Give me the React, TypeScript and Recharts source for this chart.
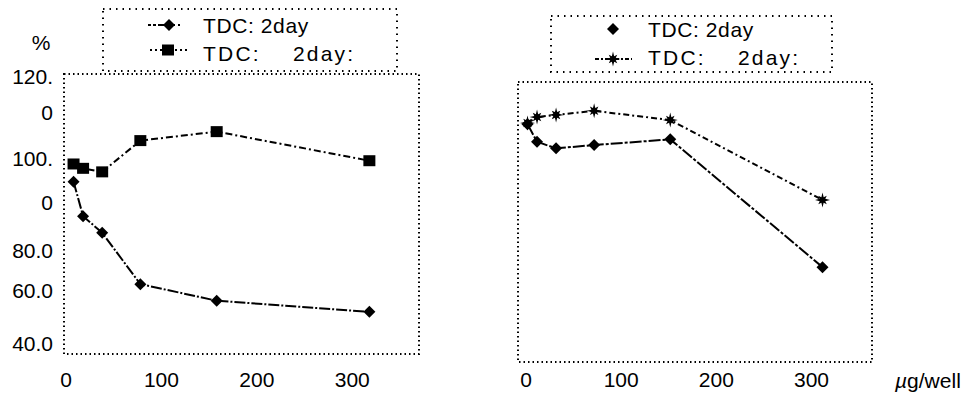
import React from 'react';
import { LineChart, Line, XAxis, YAxis, ReferenceArea, Legend, Label } from 'recharts';

// ---- data ----
const doses = [10, 20, 40, 80, 160, 320];
const leftTdc2day = [99.4, 86.7, 80.6, 61.7, 55.6, 51.5];
const leftTdc2dayB = [105.9, 104.3, 103.0, 114.5, 117.8, 107.1];
const rightTdc2day = [123.5, 117.0, 114.6, 115.8, 117.9, 70.9];
const rightTdc2dayB = [123.9, 126.1, 126.9, 128.4, 125.0, 95.6];

const xTicks = [0, 100, 200, 300];
const yTickValues = [40, 59.5, 73.9, 91.9, 108.1, 125.0, 138.0];
const yTickLabels = ['40.0', '60.0', '80.0', '0', '100.', '0', '120.'];
const seriesNames = ['TDC: 2day', 'TDC:    2day:'];
const yUnit = '%';
const xUnitPrefix = 'µ';
const xUnitRest = 'g/well';

const X_DOMAIN: [number, number] = [0, 372];
const Y_DOMAIN: [number, number] = [36, 139];

const leftData = doses.map((d, i) => ({ dose: d, a: leftTdc2day[i], b: leftTdc2dayB[i] }));
const rightData = doses.map((d, i) => ({ dose: d, a: rightTdc2day[i], b: rightTdc2dayB[i] }));

const FONT = '"Liberation Sans", Arial, sans-serif';
const INK = '#000';

function markerPath(shape: string, cx: number, cy: number): string {
  if (shape === 'square') {
    return `M${cx - 6},${cy - 5.5} h12 v11 h-12 Z`;
  }
  if (shape === 'diamond') {
    const r = 6, w = 3;
    return `M${cx},${cy - r} L${cx + w},${cy - w} L${cx + r},${cy} L${cx + w},${cy + w} L${cx},${cy + r} L${cx - w},${cy + w} L${cx - r},${cy} L${cx - w},${cy - w} Z`;
  }
  // star (8 point)
  const pts: string[] = [];
  for (let k = 0; k < 16; k++) {
    const ang = (Math.PI * 2 * k) / 16 - Math.PI / 2;
    const rr = k % 2 === 0 ? (k % 4 === 0 ? 7.5 : 6) : 3;
    pts.push(`${(cx + rr * Math.cos(ang)).toFixed(2)},${(cy + rr * Math.sin(ang)).toFixed(2)}`);
  }
  return `M${pts.join(' L')} Z`;
}

const makeDot = (shape: string) => (props: any) => {
  const { cx, cy, index } = props;
  if (cx == null || cy == null) return <g key={`e${index}`} />;
  return <path key={`d${shape}${index}`} d={markerPath(shape, cx, cy)} fill={INK} />;
};

const YTick = (props: any) => {
  const { x, y, payload } = props;
  const idx = yTickValues.indexOf(payload.value);
  const label = idx >= 0 ? yTickLabels[idx] : String(payload.value);
  return (
    <text x={x - 11} y={y + 7.5} textAnchor="end" fontFamily={FONT} fontSize={21} fill={INK}>
      {label}
    </text>
  );
};

const makeXTick = (shift: number, drop: number) => (props: any) => {
  const { x, y, payload } = props;
  return (
    <text x={x + shift} y={y + drop} textAnchor="middle" fontFamily={FONT} fontSize={21} fill={INK}>
      {payload.value}
    </text>
  );
};

const LegendText = ({ x, y, text, spacing }: { x: number; y: number; text: string; spacing: number }) => (
  <text x={x} y={y} fontFamily={FONT} fontSize={21} fill={INK} letterSpacing={spacing} style={{ whiteSpace: 'pre' }}>
    {text}
  </text>
);

const LeftLegend = () => (
  <svg width={297} height={66} style={{ display: 'block', overflow: 'visible' }}>
    <rect x={1} y={1} width={294} height={62} fill="none" stroke={INK} strokeWidth={2} strokeDasharray="1.5 5" />
    <line x1={46} x2={90} y1={17} y2={17} stroke={INK} strokeWidth={2} strokeDasharray="3 2 3 2 12" />
    <path d={markerPath('diamond', 67, 17)} fill={INK} />
    <LegendText x={101} y={25} text={seriesNames[0]} spacing={0.6} />
    <line x1={48} x2={88} y1={42} y2={42} stroke={INK} strokeWidth={2} strokeDasharray="2 3" />
    <path d={markerPath('square', 66, 42)} fill={INK} />
    <LegendText x={101} y={53} text={seriesNames[1]} spacing={2.2} />
  </svg>
);

const RightLegend = () => (
  <svg width={284} height={60} style={{ display: 'block', overflow: 'visible' }}>
    <rect x={1} y={1} width={281} height={56} fill="none" stroke={INK} strokeWidth={2} strokeDasharray="1.5 5" />
    <path d={markerPath('diamond', 63, 14)} fill={INK} />
    <LegendText x={98} y={22} text={seriesNames[0]} spacing={0.6} />
    <line x1={45} x2={82} y1={44} y2={44} stroke={INK} strokeWidth={2} strokeDasharray="4 2 2 2" />
    <path d={markerPath('star', 63, 44)} fill={INK} />
    <LegendText x={98} y={50} text={seriesNames[1]} spacing={2.2} />
  </svg>
);

const PercentLabel = (props: any) => {
  const vb = props.viewBox || { x: 4, y: 74, width: 60, height: 280 };
  return (
    <text x={vb.x + 37} y={vb.y - 24} textAnchor="middle" fontFamily={FONT} fontSize={21} fill={INK}>
      {yUnit}
    </text>
  );
};

const UnitLabel = (props: any) => {
  const vb = props.viewBox || { x: 58, y: 362, width: 354, height: 39 };
  return (
    <text x={vb.x + vb.width + 23} y={vb.y + 26} fontFamily={FONT} fontSize={21} fill={INK}>
      <tspan fontStyle="italic">{xUnitPrefix}</tspan>
      {xUnitRest}
    </text>
  );
};

export default function App() {
  return (
    <div style={{ position: 'absolute', left: 0, top: 0, width: 971, height: 401, background: '#fff' }}>
      <div style={{ position: 'absolute', left: 0, top: 0 }}>
        <LineChart width={440} height={401} data={leftData} margin={{ top: 74, right: 21, bottom: 7, left: 4 }}>
          <XAxis
            dataKey="dose"
            type="number"
            domain={X_DOMAIN}
            ticks={xTicks}
            height={40}
            tickSize={0}
            tickMargin={0}
            axisLine={false}
            tickLine={false}
            tick={makeXTick(2, 33)}
            allowDataOverflow
          />
          <YAxis
            type="number"
            domain={Y_DOMAIN}
            ticks={yTickValues}
            width={60}
            tickSize={0}
            tickMargin={0}
            axisLine={false}
            tickLine={false}
            tick={<YTick />}
            interval={0}
            allowDataOverflow
          >
            <Label content={<PercentLabel />} />
          </YAxis>
          <ReferenceArea x1={X_DOMAIN[0]} x2={X_DOMAIN[1]} y1={Y_DOMAIN[0]} y2={Y_DOMAIN[1]} fill="none" stroke={INK} strokeWidth={2} strokeDasharray="1.5 3" ifOverflow="visible" />
          <Line dataKey="b" name={seriesNames[1]} type="linear" stroke={INK} strokeWidth={2} strokeDasharray="7 3 2 3" dot={makeDot('square')} activeDot={false} isAnimationActive={false} />
          <Line dataKey="a" name={seriesNames[0]} type="linear" stroke={INK} strokeWidth={2} strokeDasharray="11 2 2 2" dot={makeDot('diamond')} activeDot={false} isAnimationActive={false} />
          <Legend layout="horizontal" verticalAlign="middle" align="center" content={<LeftLegend />} wrapperStyle={{ left: 102, top: 8, width: 297, height: 66 }} />
        </LineChart>
      </div>
      <div style={{ position: 'absolute', left: 460, top: 0 }}>
        <LineChart width={511} height={401} data={rightData} margin={{ top: 82, right: 99, bottom: 0, left: 58 }}>
          <XAxis
            dataKey="dose"
            type="number"
            domain={X_DOMAIN}
            ticks={xTicks}
            height={39}
            tickSize={0}
            tickMargin={0}
            axisLine={false}
            tickLine={false}
            tick={makeXTick(8, 25)}
            allowDataOverflow
          >
            <Label content={<UnitLabel />} />
          </XAxis>
          <YAxis type="number" domain={Y_DOMAIN} hide allowDataOverflow />
          <ReferenceArea x1={X_DOMAIN[0]} x2={X_DOMAIN[1]} y1={Y_DOMAIN[0]} y2={Y_DOMAIN[1]} fill="none" stroke={INK} strokeWidth={2} strokeDasharray="1.5 3" ifOverflow="visible" />
          <Line dataKey="b" name={seriesNames[1]} type="linear" stroke={INK} strokeWidth={2} strokeDasharray="6 3 2 3" dot={makeDot('star')} activeDot={false} isAnimationActive={false} />
          <Line dataKey="a" name={seriesNames[0]} type="linear" stroke={INK} strokeWidth={2} strokeDasharray="12 2 3 2" dot={makeDot('diamond')} activeDot={false} isAnimationActive={false} />
          <Legend layout="horizontal" verticalAlign="middle" align="center" content={<RightLegend />} wrapperStyle={{ left: 90, top: 15, width: 284, height: 60 }} />
        </LineChart>
      </div>
    </div>
  );
}
